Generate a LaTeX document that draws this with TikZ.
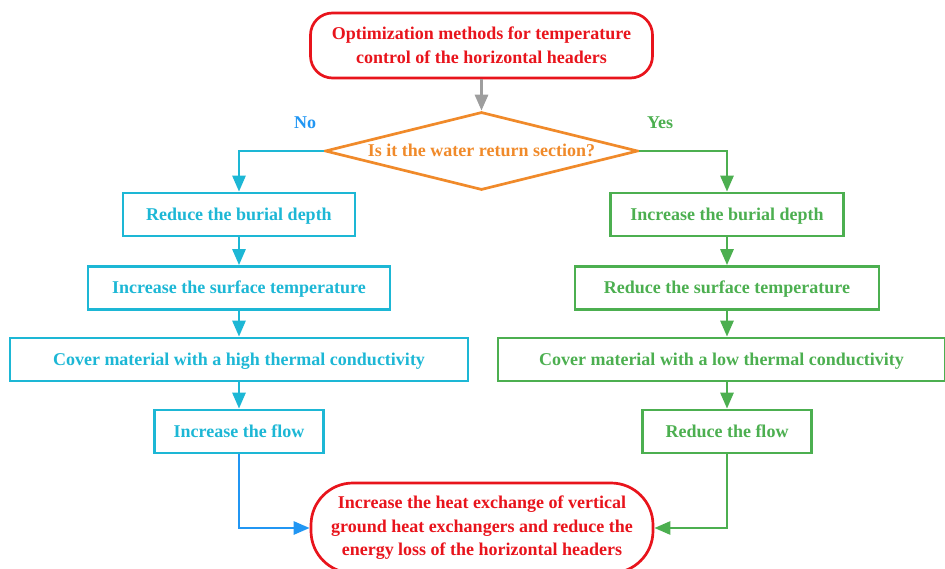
\documentclass[tikz,border=0pt]{standalone}
\usepackage{fontspec}
\setmainfont{Liberation Serif}
\usetikzlibrary{arrows.meta,shapes.geometric}
\definecolor{cred}{HTML}{E8141C}
\definecolor{corange}{HTML}{F08A2A}
\definecolor{ccyan}{HTML}{1DB7D5}
\definecolor{cgreen}{HTML}{4CAF50}
\definecolor{cblue}{HTML}{2196F3}
\definecolor{cgray}{HTML}{9E9E9E}
\begin{document}
\begin{tikzpicture}[x=1pt,y=-1pt,
  every node/.style={font=\fontsize{18}{23.5}\selectfont\bfseries, align=center, inner sep=0pt},
  lbox/.style={draw=ccyan, line width=2.7pt, text=ccyan, minimum height=43pt, text height=12pt, text depth=0pt},
  rbox/.style={draw=cgreen, line width=2.7pt, text=cgreen, minimum height=43pt, text height=12pt, text depth=0pt},
  term/.style={draw=cred, line width=2.7pt, text=cred, minimum width=342pt},
  tip/.style={-{Triangle[length=16pt,width=13pt]}},
  larr/.style={draw=ccyan, line width=2.7pt, tip},
  rarr/.style={draw=cgreen, line width=2.7pt, tip},
]
\useasboundingbox (0,0) rectangle (945,569);
\clip (0,0) rectangle (945,569);
\node[term, rounded corners=22pt, minimum height=65pt] (top) at (481.5,45.5) {Optimization methods for temperature\\control of the horizontal headers};
\node[draw=corange, line width=2.7pt, text=corange, shape=diamond, shape aspect=4.0, minimum width=313pt, minimum height=78pt, text height=12pt, text depth=0pt] (dec) at (481.5,151) {Is it the water return section?};
\node[text=cblue] (no) at (305,123) {No};
\node[text=cgreen] (yes) at (660,123) {Yes};
\node[lbox, minimum width=232pt] (l1) at (239,214.5) {Reduce the burial depth};
\node[lbox, minimum width=302pt] (l2) at (239,288) {Increase the surface temperature};
\node[lbox, minimum width=458pt] (l3) at (239,359.5) {Cover material with a high thermal conductivity};
\node[lbox, minimum width=169pt] (l4) at (239,431.5) {Increase the flow};
\node[rbox, minimum width=233pt] (r1) at (727,214.5) {Increase the burial depth};
\node[rbox, minimum width=304pt] (r2) at (727,288) {Reduce the surface temperature};
\node[rbox, minimum width=447pt] (r3) at (721.5,359.5) {Cover material with a low thermal conductivity};
\node[rbox, minimum width=169pt] (r4) at (727,431.5) {Reduce the flow};
\node[term, rounded corners=42pt, minimum height=90pt] (bot) at (482,528) {Increase the heat exchange of vertical\\ground heat exchangers and reduce the\\energy loss of the horizontal headers};
\draw[draw=cgray, line width=3pt, tip] (top) -- (dec);
\draw[larr] (dec.west) -| (l1.north);
\draw[rarr] (dec.east) -| (r1.north);
\draw[larr] (l1) -- (l2);
\draw[larr] (l2) -- (l3);
\draw[larr] (l3) -- (l4);
\draw[rarr] (r1) -- (r2);
\draw[rarr] (r2) -- (r3.north -| r2.south);
\draw[rarr] (r3.south -| r2.south) -- (r4);
\draw[draw=cblue, line width=2.7pt, tip] (l4.south) |- (bot.west);
\draw[rarr] (r4.south) |- (bot.east);
\end{tikzpicture}
\end{document}
